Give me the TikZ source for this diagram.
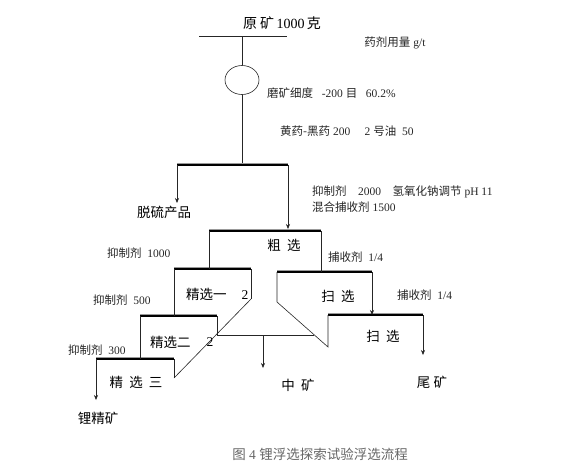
\documentclass[tikz,border=0pt]{standalone}
\usepackage{fontspec}
\setmainfont{Liberation Serif}
\newfontfamily\cjk{Noto Sans CJK SC}
\usetikzlibrary{arrows.meta,shapes.geometric}
\begin{document}
\begin{tikzpicture}[x=1pt,y=-1pt,
  flow/.style={draw=black!85, line width=0.6pt},
  arr/.style={flow, -{Stealth[length=5pt,width=4pt]}},
  barblack/.style={line width=2pt, black},
  bargray/.style={line width=1pt, black!40},
  lbl/.style={inner sep=0, font=\fontsize{11.5}{13}\selectfont, text=black!85},
  big/.style={inner sep=0, font=\fontsize{13.5}{15}\selectfont},
  captext/.style={inner sep=0, font=\fontsize{13.5}{15}\selectfont, text=black!60}]
\useasboundingbox[fill=white] (0,0) rectangle (576,464);
% texts
\node[inner sep=0, font=\fontsize{14}{16}\selectfont] (feed) at (282,23) {{\cjk 原\ 矿}\,1000\,{\cjk 克}};
\node[lbl] (dose) at (395,43) {{\cjk 药剂用量} g/t};
\node[lbl, anchor=west] (grind) at (267,93) {{\cjk 磨矿细度}\ \ \ -200 {\cjk 目}\ \ \ 60.2\%};
\node[lbl, anchor=west] (reag1) at (280,131) {{\cjk 黄药-黑药}\ 200\ \ \ \ \ 2\ {\cjk 号油}\ \ 50};
\node[lbl, anchor=west] (reag2) at (312,192) {{\cjk 抑制剂}\ \ \ \ 2000\ \ \ \ {\cjk 氢氧化钠调节} pH\ 11};
\node[lbl, anchor=west] (reag3) at (312,207) {{\cjk 混合捕收剂} 1500};
\node[big] (desulf) at (164,212) {\cjk 脱硫产品};
\node[big] (rough) at (284,245) {\cjk 粗\ \ 选};
\node[lbl, anchor=west] (dep1) at (107,253) {{\cjk 抑制剂}\ \ 1000};
\node[lbl, anchor=west] (col1) at (328,257) {{\cjk 捕收剂}\ \ 1/4};
\node[big, anchor=west] (cl1) at (186,294) {\cjk 精选一};
\node[big] (cl1n) at (245,295) {2};
\node[big] (sc1) at (338,296) {\cjk 扫\ \ 选};
\node[lbl, anchor=west] (col2) at (397,295) {{\cjk 捕收剂}\ \ 1/4};
\node[lbl, anchor=west] (dep2) at (93,300) {{\cjk 抑制剂}\ \ 500};
\node[big] (sc2) at (383,336) {\cjk 扫\ \ 选};
\node[big, anchor=west] (cl2) at (150,342) {\cjk 精选二};
\node[big] (cl2n) at (210,342) {2};
\node[lbl, anchor=west] (dep3) at (68,350) {{\cjk 抑制剂}\ \ 300};
\node[big] (cl3) at (136,382) {\cjk 精\ \ 选\ \ 三};
\node[big] (mid) at (298,385) {\cjk 中\ \ 矿};
\node[big] (tail) at (432,382) {\cjk 尾\ 矿};
\node[big] (conc) at (98,418) {\cjk 锂精矿};
\node[captext] (caption) at (320,454) {{\cjk 图}\ 4\ {\cjk 锂浮选探索试验浮选流程}};
% coordinates
\coordinate (fL) at (199,36); \coordinate (fR) at (287,36); \coordinate (fM) at (242,36);
\node[draw=black!85, line width=0.6pt, ellipse, minimum width=34pt, minimum height=29pt, inner sep=0] (mill) at (242,80) {};
\coordinate (dL) at (177,165); \coordinate (dR) at (288,165); \coordinate (dM) at (242,165);
\coordinate (dLe) at (177,203); \coordinate (dRe) at (288,229);
\coordinate (rL) at (209,231); \coordinate (rR) at (321,231);
\coordinate (c1L) at (174,269); \coordinate (c1R) at (251,269); \coordinate (c1B) at (251,299);
\coordinate (c1J) at (209,269);
\coordinate (c2L) at (140,316); \coordinate (c2R) at (217,316); \coordinate (c2B) at (217,335);
\coordinate (c2J) at (174,316);
\coordinate (c3L) at (96,359); \coordinate (c3R) at (174,359); \coordinate (c3B) at (174,378);
\coordinate (c3J) at (140,359); \coordinate (c3E) at (96,400);
\coordinate (s1L) at (277,272); \coordinate (s1R) at (372,272); \coordinate (s1B) at (277,302);
\coordinate (s1J) at (321,272);
\coordinate (s2L) at (328,315); \coordinate (s2R) at (423,315); \coordinate (s2B) at (328,347);
\coordinate (s2J) at (372,315); \coordinate (s2E) at (423,355);
\coordinate (mE) at (314,335); \coordinate (mA) at (263,335); \coordinate (mT) at (263,368);
% feed
\draw[flow] (fL) -- (fR);
\draw[flow] (fM) -- (mill.north);
\draw[flow] (mill.south) -- (dM);
% bars (gray top line + thick black)
\foreach \a/\b in {dL/dR, rL/rR, c1L/c1R, c2L/c2R, c3L/c3R, s1L/s1R, s2L/s2R}{
  \draw[bargray] ([yshift=2pt]\a) -- ([yshift=2pt]\b);
  \draw[barblack] (\a) -- (\b);
}
% desulfurization
\draw[arr] (dL) -- (dLe);
\draw[arr] (dR) -- (dRe);
% rougher
\draw[flow] (rL) -- (c1J);
\draw[flow] (rR) -- (s1J);
% cleaners
\draw[flow] (c1R) -- (c1B);
\draw[flow] (c1L) -- (c2J);
\draw[flow] (c2R) -- (c2B);
\draw[flow] (c2L) -- (c3J);
\draw[flow] (c3R) -- (c3B);
\draw[arr] (c3L) -- (c3E);
\draw[flow] (c3B) -- (c1B);
% middlings
\draw[flow] (c2B) -- (mE);
\draw[arr] (mA) -- (mT);
% scavengers
\draw[flow] (s1L) -- (s1B) -- (s2B) -- (s2L);
\draw[arr] (s1R) -- (s2J);
\draw[arr] (s2R) -- (s2E);
\end{tikzpicture}
\end{document}
